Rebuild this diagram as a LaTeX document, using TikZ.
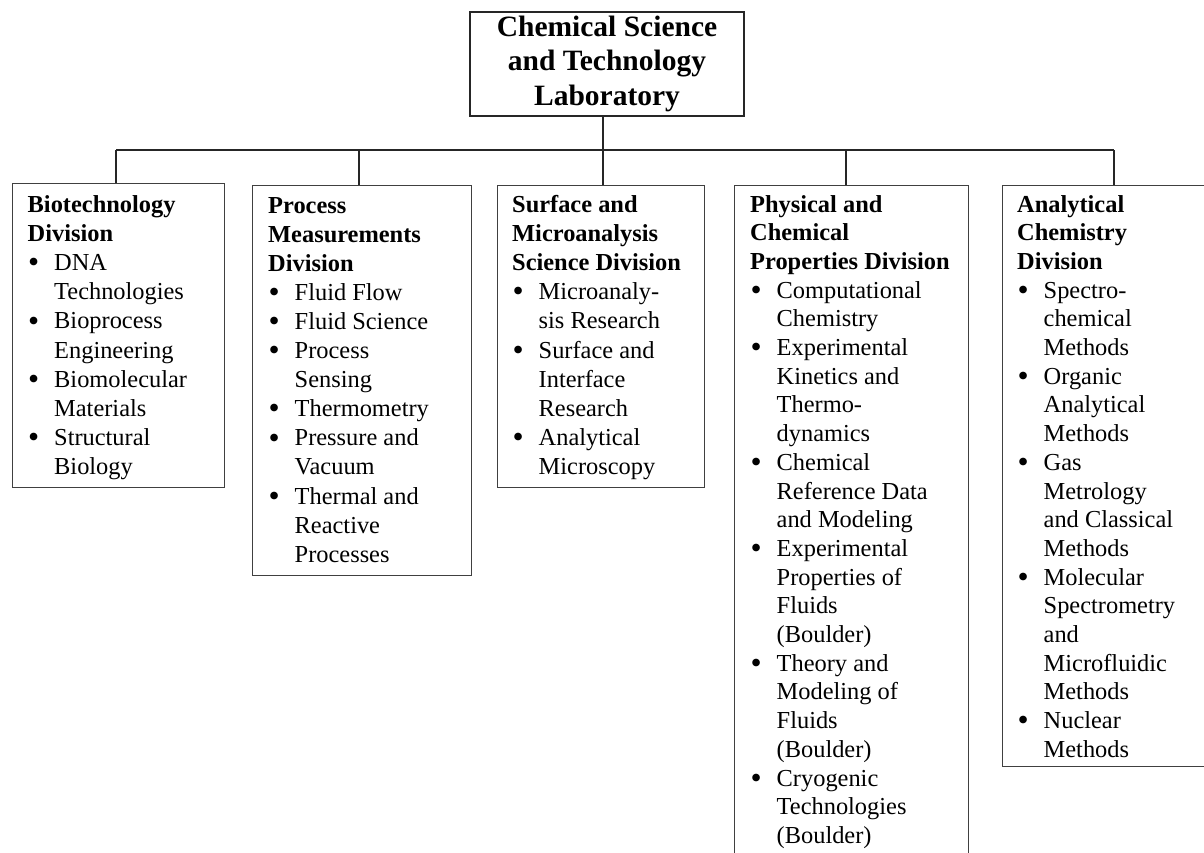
\documentclass[tikz,border=0pt]{standalone}
\usepackage{fontspec}
\usepackage{graphicx}
\setmainfont{Liberation Serif}
\newcommand{\itm}[1]{\makebox[26.5pt][l]{\hspace*{0.5pt}\raisebox{-2.2pt}{\scalebox{1.3}{\textbullet}}}#1}
\newcommand{\ctn}[1]{\hspace*{26.5pt}#1}
\newcommand{\hd}[1]{\textbf{#1}}
\begin{document}
\begin{tikzpicture}[x=1pt,y=-1pt,
  conn/.style={line width=2pt, black!85},
  labbox/.style={draw=black!85, line width=2pt, minimum width=274pt, minimum height=102pt, inner sep=0pt, font=\bfseries\fontsize{29.5}{34.5}\selectfont},
  divbox/.style={draw=black!75, line width=1.3pt, anchor=north west, inner sep=0pt},
  divtext/.style={anchor=base west, inner sep=0pt, font=\fontsize{24.4}{#1}\selectfont},
  divtext/.default=29.2
]
\useasboundingbox (0,0) rectangle (1204,852);
\clip (0,0) rectangle (1204,852);

% top box
\node[labbox] (lab) at (607,64) {\begin{tabular}{@{}c@{}}Chemical Science\\ and Technology\\ Laboratory\end{tabular}};

% division boxes
\node[divbox, minimum width=212pt, minimum height=304pt] (d1) at (12,183) {};
\node[divbox, minimum width=219pt, minimum height=390pt] (d2) at (252,185) {};
\node[divbox, minimum width=207pt, minimum height=302pt] (d3) at (497,185) {};
\node[divbox, minimum width=234pt, minimum height=720pt] (d4) at (734,185) {};
\node[divbox, minimum width=260pt, minimum height=581pt] (d5) at (1002,185) {};

% texts
\node[divtext=29.2] (t1) at ([xshift=15.5pt]d1.north west |- 0,212) {\begin{tabular}[t]{@{}l@{}}
\hd{Biotechnology}\\ \hd{Division}\\
\itm{DNA}\\ \ctn{Technologies}\\
\itm{Bioprocess}\\ \ctn{Engineering}\\
\itm{Biomolecular}\\ \ctn{Materials}\\
\itm{Structural}\\ \ctn{Biology}
\end{tabular}};

\node[divtext=29.1] (t2) at ([xshift=16pt]d2.north west |- 0,213) {\begin{tabular}[t]{@{}l@{}}
\hd{Process}\\ \hd{Measurements}\\ \hd{Division}\\
\itm{Fluid Flow}\\
\itm{Fluid Science}\\
\itm{Process}\\ \ctn{Sensing}\\
\itm{Thermometry}\\
\itm{Pressure and}\\ \ctn{Vacuum}\\
\itm{Thermal and}\\ \ctn{Reactive}\\ \ctn{Processes}
\end{tabular}};

\node[divtext=29.2] (t3) at ([xshift=15pt]d3.north west |- 0,212) {\begin{tabular}[t]{@{}l@{}}
\hd{Surface and}\\ \hd{Microanalysis}\\ \hd{Science Division}\\
\itm{Microanaly-}\\ \ctn{sis Research}\\
\itm{Surface and}\\ \ctn{Interface}\\ \ctn{Research}\\
\itm{Analytical}\\ \ctn{Microscopy}
\end{tabular}};

\node[divtext=28.7] (t4) at ([xshift=16pt]d4.north west |- 0,212) {\begin{tabular}[t]{@{}l@{}}
\hd{Physical and}\\ \hd{Chemical}\\ \hd{Properties Division}\\
\itm{Computational}\\ \ctn{Chemistry}\\
\itm{Experimental}\\ \ctn{Kinetics and}\\ \ctn{Thermo-}\\ \ctn{dynamics}\\
\itm{Chemical}\\ \ctn{Reference Data}\\ \ctn{and Modeling}\\
\itm{Experimental}\\ \ctn{Properties of}\\ \ctn{Fluids}\\ \ctn{(Boulder)}\\
\itm{Theory and}\\ \ctn{Modeling of}\\ \ctn{Fluids}\\ \ctn{(Boulder)}\\
\itm{Cryogenic}\\ \ctn{Technologies}\\ \ctn{(Boulder)}
\end{tabular}};

\node[divtext=28.7] (t5) at ([xshift=15pt]d5.north west |- 0,212) {\begin{tabular}[t]{@{}l@{}}
\hd{Analytical}\\ \hd{Chemistry}\\ \hd{Division}\\
\itm{Spectro-}\\ \ctn{chemical}\\ \ctn{Methods}\\
\itm{Organic}\\ \ctn{Analytical}\\ \ctn{Methods}\\
\itm{Gas}\\ \ctn{Metrology}\\ \ctn{and Classical}\\ \ctn{Methods}\\
\itm{Molecular}\\ \ctn{Spectrometry}\\ \ctn{and}\\ \ctn{Microfluidic}\\ \ctn{Methods}\\
\itm{Nuclear}\\ \ctn{Methods}
\end{tabular}};

% connectors
\coordinate (b1) at (116,150);
\coordinate (b2) at (359,150);
\coordinate (b3) at (603,150);
\coordinate (b4) at (846,150);
\coordinate (b5) at (1114,150);
\draw[conn] (b1) -- (b5);
\draw[conn] (b3 |- lab.south) -- (b3);
\draw[conn] (b1) -- (b1 |- d1.north);
\draw[conn] (b2) -- (b2 |- d2.north);
\draw[conn] (b3) -- (b3 |- d3.north);
\draw[conn] (b4) -- (b4 |- d4.north);
\draw[conn] (b5) -- (b5 |- d5.north);
\end{tikzpicture}
\end{document}
